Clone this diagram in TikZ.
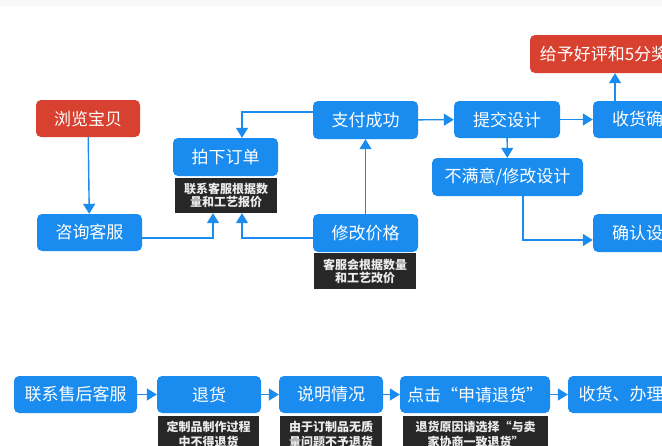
\documentclass[tikz,border=0pt]{standalone}
\usepackage{fontspec}
\setmainfont{Noto Sans CJK SC}
\usetikzlibrary{arrows.meta,calc}
\definecolor{bbox}{HTML}{1A8CF0}
\definecolor{rbox}{HTML}{D8402F}
\definecolor{nbox}{HTML}{272727}
\definecolor{strip}{HTML}{F8F8F8}
\tikzset{
  flowbox/.style={fill=bbox,rounded corners=5pt,text=white,font=\fontsize{17}{18}\selectfont,minimum height=37pt,inner sep=0pt,align=center},
  redbox/.style={flowbox,fill=rbox},
  notebox/.style={fill=nbox,text=white!92!black,font=\fontsize{12}{13}\selectfont\bfseries,inner sep=0pt,align=center},
  flowarrow/.style={draw=bbox,line width=1.4pt,-{Triangle[width=12pt,length=10pt]}}
}
\begin{document}
\begin{tikzpicture}[x=1pt,y=-1pt]
\useasboundingbox (0,0) rectangle (662,445);
\clip (0,0) rectangle (662,445);
\fill[white] (0,0) rectangle (662,445);
\fill[strip] (0,0) rectangle (662,6);
% top part
\node[redbox,minimum width=104pt] (browse) at (88,118.5) {浏览宝贝};
\node[flowbox,minimum width=105pt] (consult) at (89.5,232.5) {咨询客服};
\node[flowbox,minimum width=105pt,minimum height=38pt] (order) at (225.5,157) {拍下订单};
\node[notebox,minimum width=102pt,minimum height=35pt] (ordernote) at (226,195.5) {联系客服根据数\\量和工艺报价};
\node[flowbox,minimum width=105pt,minimum height=38pt] (pay) at (365.5,120) {支付成功};
\node[flowbox,minimum width=105pt,minimum height=38pt] (modify) at (365.5,233) {修改价格};
\node[notebox,minimum width=102pt,minimum height=36pt] (modnote) at (365,271) {客服会根据数量\\和工艺改价};
\node[flowbox,minimum width=106pt] (submit) at (507,119.5) {提交设计};
\node[flowbox,minimum width=151pt,minimum height=38pt] (unsat) at (507.5,177) {不满意/修改设计};
\node[flowbox,minimum width=106pt] (recv) at (646,119.5) {收货确认};
\node[flowbox,minimum width=106pt,minimum height=38pt] (confirm) at (646,233) {确认设计};
\node[redbox,minimum width=165pt,minimum height=38pt] (praise) at (612.5,54) {给予好评和5分奖励};
% top connectors
\coordinate (c1) at (213,238);
\coordinate (c2) at (242,238);
\coordinate (c3) at (242,112);
\coordinate (c4) at (523,240);
\draw[flowarrow] (browse) -- (consult);
\draw[flowarrow] (consult.east |- c1) -| (c1 |- ordernote.south);
\draw[flowarrow] (modify.west |- c2) -| (c2 |- ordernote.south);
\draw[flowarrow] (pay.west |- c3) -| (c3 |- order.north);
\draw[flowarrow] (modify) -- (pay);
\draw[flowarrow] (pay) -- (submit);
\draw[flowarrow] (submit) -- (recv);
\draw[flowarrow] (recv.north -| 615,0) -- (praise.south -| 615,0);
\draw[flowarrow] (submit) -- (unsat);
\draw[flowarrow] (unsat.south -| c4) |- (confirm.west |- c4);
% bottom row
\node[flowbox,minimum width=123pt] (aftersale) at (75.5,394.5) {联系售后客服};
\node[flowbox,minimum width=104pt] (ret) at (209,394.5) {退货};
\node[notebox,minimum width=101pt,minimum height=36pt,font=\fontsize{12}{15.5}\selectfont\bfseries,anchor=north] (retnote) at (208.5,416) {定制品制作过程\\中不得退货};
\node[flowbox,minimum width=104pt] (explain) at (331,394.5) {说明情况};
\node[notebox,minimum width=102pt,minimum height=36pt,font=\fontsize{12}{15.5}\selectfont\bfseries,anchor=north] (explnote) at (331,416) {由于订制品无质\\量问题不予退货};
\node[flowbox,minimum width=150pt] (apply) at (475,394.5) {点击“申请退货”};
\node[notebox,minimum width=145pt,minimum height=36pt,font=\fontsize{12}{15.5}\selectfont\bfseries,anchor=north] (applynote) at (475.5,416) {退货原因请选择“与卖\\家协商一致退货”};
\node[flowbox,minimum width=140pt] (refund) at (638,394.5) {收货、办理退款};
\draw[flowarrow] (aftersale) -- (ret);
\draw[flowarrow] (ret) -- (explain);
\draw[flowarrow] (explain) -- (apply);
\draw[flowarrow] (apply) -- (refund);
\end{tikzpicture}
\end{document}
